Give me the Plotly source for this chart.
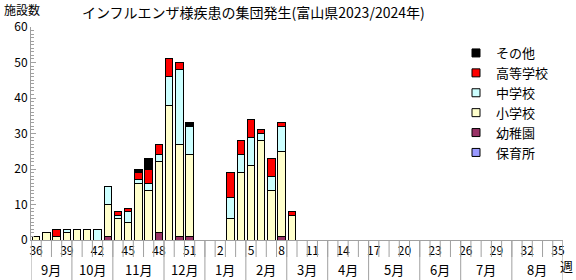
import plotly.graph_objects as go

# ---- data ----
weeks = list(range(36, 53)) + list(range(1, 36))
week_labels = [str(w) for w in weeks]

def series(d):
    return [d.get(w, 0) for w in weeks]

nursery = series({})  # 保育所
kindergarten = series({43: 1, 48: 2, 50: 1, 51: 1, 8: 1})  # 幼稚園
elementary = series({36: 1, 37: 2, 38: 1, 39: 2, 40: 3, 41: 3, 43: 9, 44: 6, 45: 5,
                     46: 16, 47: 14, 48: 20, 49: 38, 50: 26, 51: 23,
                     3: 6, 4: 19, 5: 21, 6: 28, 7: 14, 8: 24, 9: 7})  # 小学校
junior = series({39: 1, 42: 3, 43: 5, 44: 1, 45: 3, 46: 1, 47: 2, 48: 2, 49: 8,
                 50: 21, 51: 8, 3: 6, 4: 5, 5: 8, 6: 2, 7: 4, 8: 7})  # 中学校
high = series({38: 2, 44: 1, 45: 1, 46: 2, 47: 4, 48: 3, 49: 5, 50: 2,
               3: 7, 4: 4, 5: 5, 6: 1, 7: 5, 8: 1, 9: 1})  # 高等学校
other = series({46: 1, 47: 3, 51: 1})  # その他

months = ["9月", "10月", "11月", "12月", "1月", "2月", "3月", "4月", "5月", "6月", "7月", "8月"]
month_weeks = [4, 4, 5, 4, 4, 4, 4, 4, 5, 4, 5, 5]

stack = [
    ("保育所", nursery, "#9999FF"),
    ("幼稚園", kindergarten, "#993366"),
    ("小学校", elementary, "#FFFFCC"),
    ("中学校", junior, "#CCFFFF"),
    ("高等学校", high, "#FF0000"),
    ("その他", other, "#000000"),
]

FONT = "Noto Sans CJK JP"
GRAY = "#A0A0A0"
PW = 532.0  # plot width in px
PH = 213.0  # plot height in px

fig = go.Figure()
for name, vals, col in stack:
    fig.add_trace(go.Bar(x=week_labels, y=vals, name=name, marker_color=col,
                         marker_line_color="black", marker_line_width=1,
                         width=0.72, showlegend=False, legendgroup=name))

# legend entries (top to bottom)
for name, vals, col in reversed(stack):
    fig.add_trace(go.Scatter(x=[None], y=[None], mode="markers", name=name,
                             legendgroup=name,
                             marker=dict(symbol="square", size=8, color=col,
                                         line=dict(color="black", width=1))))

shapes = []
n = len(weeks)
for k in range(n + 1):
    shapes.append(dict(type="line", xref="x", yref="paper", x0=k - 0.5, x1=k - 0.5,
                       y0=0, y1=-17 / PH, line=dict(color=GRAY, width=1)))
b = -0.5
bounds = [b]
for mw in month_weeks:
    b += mw
    bounds.append(b)
for bx in bounds:
    shapes.append(dict(type="line", xref="x", yref="paper", x0=bx, x1=bx,
                       y0=0, y1=-41 / PH, line=dict(color=GRAY, width=1)))

annotations = []
for i, m in enumerate(months):
    cx = (bounds[i] + bounds[i + 1]) / 2
    annotations.append(dict(x=cx, y=-29 / PH, xref="x", yref="paper", text=m,
                            showarrow=False, font=dict(size=13, color="black", family=FONT),
                            xanchor="center", yanchor="middle"))
annotations.append(dict(x=-29 / PW, y=1 + 18 / PH, xref="paper", yref="paper", text="施設数",
                        showarrow=False, xanchor="left", yanchor="middle",
                        font=dict(size=12, color="black", family=FONT)))
annotations.append(dict(x=(558 - 31) / PW, y=-25 / PH, xref="paper", yref="paper", text="週",
                        showarrow=False, xanchor="left", yanchor="middle",
                        font=dict(size=13, color="black", family=FONT)))

fig.update_layout(
    width=576, height=280,
    margin=dict(l=31, r=13, t=27, b=40, autoexpand=False),
    paper_bgcolor="white", plot_bgcolor="white",
    barmode="stack", bargap=0.28,
    font=dict(family=FONT, size=12, color="black"),
    title=dict(text="インフルエンザ様疾患の集団発生(富山県2023/2024年)",
               x=82 / 576, xanchor="left", xref="container",
               y=1 - 13 / 280, yanchor="middle", yref="container",
               font=dict(size=14, color="black", family=FONT)),
    showlegend=True,
    legend=dict(x=456 / 576, xref="container", y=1 - 38 / 280, yref="container",
                xanchor="left", yanchor="top", traceorder="normal",
                tracegroupgap=5.5, font=dict(size=13, color="black", family=FONT),
                bgcolor="rgba(0,0,0,0)", itemwidth=30),
    shapes=shapes, annotations=annotations,
)
fig.update_xaxes(type="category", range=[-0.5, n - 0.5], showline=True, linecolor=GRAY,
                 linewidth=1, ticks="", showgrid=False, zeroline=False,
                 tickvals=week_labels[::3], ticktext=week_labels[::3], tickangle=0,
                 tickfont=dict(size=12, color="black", family=FONT))
fig.update_yaxes(range=[0, 60], showline=True, linecolor=GRAY, linewidth=1,
                 ticks="inside", ticklen=5, tickcolor=GRAY, dtick=10,
                 minor=dict(dtick=1, ticks="inside", ticklen=3, tickcolor=GRAY),
                 showgrid=False, zeroline=False,
                 tickfont=dict(size=12, color="black", family=FONT))

fig.write_html("out.html")
